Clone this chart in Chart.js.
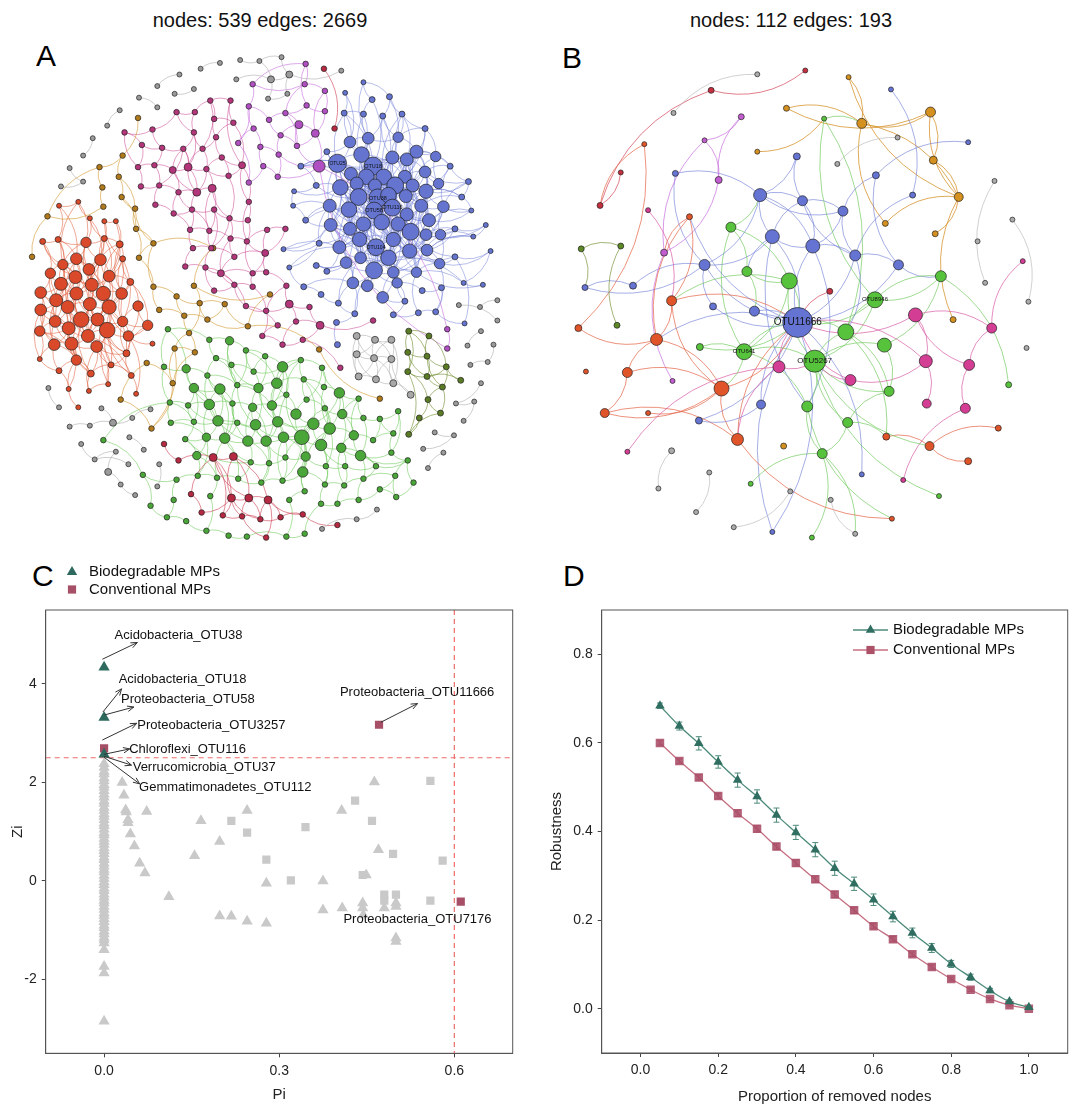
<!DOCTYPE html>
<html>
<head>
<meta charset="utf-8">
<title>Networks, Zi-Pi plot and robustness</title>
<script src="https://cdn.jsdelivr.net/npm/chart.js"></script>
<style>
  body { margin: 0; background: #fff; font-family: "Liberation Sans", Arial, Helvetica, sans-serif; }
  #page { position: relative; width: 1080px; height: 1112px; overflow: hidden; }
  canvas { position: absolute; }
  .title { position: absolute; width: 400px; text-align: center; font-size: 20px; line-height: 20px; color: #111; }
  .tag { position: absolute; font-size: 30px; line-height: 30px; color: #000; }
</style>
</head>
<body>
<div id="page">
  <div class="title" style="left:60px;top:10px">nodes: 539 edges: 2669</div>
  <div class="title" style="left:591px;top:10px">nodes: 112 edges: 193</div>
  <div class="tag" style="left:36px;top:41px">A</div>
  <div class="tag" style="left:562px;top:43px">B</div>
  <div class="tag" style="left:32px;top:561px">C</div>
  <div class="tag" style="left:563px;top:561px">D</div>
  <canvas id="netA" width="540" height="560" style="left:0;top:0"></canvas>
  <canvas id="netB" width="540" height="560" style="left:540px;top:0"></canvas>
  <canvas id="zipi" width="540" height="552" style="left:0;top:560px"></canvas>
  <canvas id="robust" width="540" height="552" style="left:540px;top:560px"></canvas>
</div>

<script>
// ---------------- network A : layout position [x, y, radius] per module ----------------
const aBlue = [
  [340,159,7],[365,150,6],[377,162,7],[397,153,5],[412,155,5],[422,147,5],[354,170,5],[370,173,6],[388,173,6],[410,173,5],
  [431,168,4.5],[343,184,6],[360,180,5],[379,182,5],[400,182,6.5],[418,182,5],[432,188,5.5],[362,194,6.5],[382,195,7],[393,192,6],
  [411,193,5],[332,203,5],[352,207,6],[378,208,6.5],[397,205,6.5],[412,212,5],[427,203,5],[450,204,4.5],[333,223,5],[353,227,5],
  [367,222,5.5],[386,220,6],[403,222,5.5],[416,230,6.5],[435,218,5],[432,233,4.5],[447,233,4],[342,246,5],[363,238,5.5],[380,246,6.5],
  [398,238,5.5],[415,250,5.5],[433,249,4.5],[349,262,4.5],[364,257,4.5],[393,257,6],[378,270,6.5],[398,272,4.5],[422,272,4],[446,263,4],
  [356,283,4.5],[402,283,4],[353,137,4.5],[372,133,4.5],[403,132,4],[442,152,4],[445,180,4],[347,107,3],[367,108,3],[387,110,3],
  [407,108,3],[431,123,3],[376,93,3],[394,90,3],[367,75,2.5],[348,86,2.5],[329,147,3],[318,182,3],[295,188,2.5],[294,203,2.5],
  [307,218,3],[302,162,3],[457,162,3],[476,178,3],[469,194,3],[479,208,2.5],[462,227,3],[494,223,2.5],[481,235,2.5],[462,256,3],
  [499,250,2.5],[471,283,2.5],[491,285,2.5],[284,248,2.5],[318,265,3],[329,271,3],[305,287,3],[290,267,2.5],[321,242,3],[371,286,4.5],
  [387,298,4.5],[410,302,3],[398,316,3],[424,314,3],[442,313,3],[341,304,3],[358,315,3],[339,324,3],[340,347,3],[472,325,2.5],
  [448,288,3],[428,291,3],[323,295,3]
];
const aBlueEdges =
  "0-1 0-2 0-6 0-11 0-12 0-52 0-66 0-21 0-17 0-7 1-2 1-3 1-52 1-53 1-7 1-8 1-12 2-3 2-7 2-8 2-13 2-18 2-53 2-23 " +
  "3-4 3-8 3-9 3-14 3-54 3-19 4-5 4-9 4-10 4-15 4-55 4-20 5-10 5-54 5-55 5-61 5-16 6-7 6-11 6-12 6-17 6-22 7-8 7-12 " +
  "7-13 7-18 7-17 8-9 8-13 8-14 8-19 8-24 9-10 9-14 9-15 9-20 9-25 10-15 10-16 10-56 10-26 11-12 11-17 11-21 11-22 " +
  "11-67 11-28 12-13 12-17 12-18 12-22 13-14 13-18 13-19 13-23 14-15 14-19 14-20 14-24 14-31 15-16 15-20 15-25 15-26 " +
  "16-26 16-27 16-56 16-34 17-18 17-22 17-23 17-29 17-30 18-19 18-23 18-24 18-31 18-39 19-20 19-24 19-25 19-32 20-25 " +
  "20-26 20-33 21-22 21-28 21-70 21-29 22-23 22-29 22-30 22-37 23-24 23-30 23-31 23-38 23-46 24-25 24-31 24-32 24-40 " +
  "24-45 25-26 25-32 25-33 25-41 26-27 26-34 26-35 27-34 27-36 27-72 28-29 28-37 28-88 28-43 29-30 29-37 29-38 29-44 " +
  "30-31 30-38 30-39 30-45 31-32 31-39 31-40 31-46 32-33 32-40 32-41 33-34 33-35 33-41 33-42 34-35 34-36 35-36 35-42 " +
  "36-49 37-38 37-43 37-44 37-50 38-39 38-44 38-46 39-40 39-45 39-46 40-41 40-45 40-47 41-42 41-47 41-48 42-48 42-49 " +
  "43-44 43-50 44-45 44-46 44-50 45-46 45-47 45-51 46-47 46-50 46-51 47-48 47-51 48-49 48-51 52-53 52-57 52-66 53-54 " +
  "53-58 53-59 54-59 54-60 54-61 55-56 55-72 55-61 57-58 57-65 58-62 59-63 60-63 60-61 62-64 63-64 65-52 64-53 66-71 " +
  "67-71 67-68 68-69 69-70 70-28 71-0 72-73 73-74 74-16 74-75 75-34 76-36 76-77 77-78 78-42 79-49 79-80 80-81 81-82 " +
  "82-48 83-88 84-85 85-37 86-87 87-88 88-21 84-43 89-90 90-91 91-92 92-93 93-94 94-100 100-101 101-51 89-50 95-96 " +
  "96-97 97-98 95-102 102-86 99-94 99-79 89-46 90-47 91-51 96-50 1-57 2-62 8-60 3-63 5-72 10-73 16-74 27-75 36-76 " +
  "35-77 42-78 49-80 48-81 50-95 43-84 37-83 0-18 0-23 1-13 2-24 3-18 4-19 6-23 7-24 8-31 9-32 11-30 12-39 13-45 " +
  "14-33 15-34 17-44 18-45 19-41 20-40 21-37 22-46 23-40 24-47 26-41 28-44 30-46 31-47 32-48 2-14 7-19 12-23 13-31 " +
  "18-32 23-39 24-33 17-38 29-46 30-44 31-45 3-20 1-9 2-20 8-25 13-24 18-40 23-45 39-47 " +
  "0-3 0-13 0-22 0-28 1-4 1-14 1-18 2-4 2-19 2-31 3-5 3-15 3-24 4-14 4-16 5-9 5-15 6-13 6-18 6-28 7-14 7-22 7-23 " +
  "8-15 8-18 8-20 9-16 9-19 9-24 10-20 10-25 11-18 11-23 11-29 12-19 12-24 12-29 13-20 13-22 13-30 14-25 14-26 15-24 " +
  "15-33 16-25 16-33 17-24 17-31 17-37 18-25 18-30 19-26 19-31 20-34 21-30 21-38 22-31 22-38 23-32 23-44 24-34 24-41 " +
  "25-34 25-40 26-33 27-35 28-38 28-39 29-39 29-43 30-40 30-37 31-41 32-39 32-42 33-40 33-49 35-41 36-48 37-39 38-45 " +
  "38-40 39-44 40-46 41-45 42-47 43-46 44-47 45-48 46-49 " +
  "0-71 11-68 21-69 28-83 37-87 43-85 50-86 46-89 47-90 51-91 48-93 49-94 42-76 36-78 33-79 27-73 16-73 10-72 4-60 " +
  "3-59 1-58 0-57 2-57 7-58 8-59 9-60 14-61 15-55 20-72 26-74 34-75 35-76 41-79 45-81 46-96 39-89 44-95 29-88 22-70 " +
  "17-67 12-71 6-66 0-24 0-31 1-23 2-29 3-30 4-32 5-26 6-31 7-32 8-38 9-37 10-33 11-32 12-33 13-34 14-37 15-38 16-41 " +
  "17-40 18-41 19-44 20-45 21-39 22-40 23-41 25-39 26-42 27-41 28-45 29-45 30-47 31-48 32-46 33-45 34-48 35-47 36-47";
const aBlueLabels = [[24, 'OTU116', 5.5], [18, 'OTU38', 5.5], [2, 'OTU18', 5.5], [23, 'OTU58', 5.5], [0, 'OTU25', 5], [39, 'OTU104', 5]];

const aRed = [
  [51,203,2.5],[71,199,2.5],[83,216,2.5],[98,219,2.5],[110,219,2.5],[34,240,3],[50,238,3],[79,241,4],[98,237,3],[114,243,3.5],
  [117,258,3],[42,273,4],[55,264,4],[69,258,4.5],[82,269,4.5],[94,259,4.5],[103,276,4.5],[68,277,5],[53,284,5],[85,285,5],
  [32,293,4.5],[69,294,5],[97,294,5.5],[116,294,4.5],[125,282,3.5],[48,301,5],[60,308,5],[83,305,5],[103,308,5.5],[32,311,4.5],
  [47,323,4.5],[74,321,6],[91,321,5],[117,323,4],[133,307,4],[143,327,4],[31,333,4],[61,330,5],[81,338,5],[101,332,6],
  [123,338,4],[46,347,4.5],[64,346,5],[90,349,4.5],[121,356,3.5],[69,363,4],[84,377,3.5],[105,368,3],[126,379,3],[31,362,2.5],
  [51,374,3],[61,393,2.5],[82,395,2.5],[102,388,2.5],[71,412,2.5],[131,398,2.5],[148,346,2.5]
];
const aRedEdges =
  "0-6 0-1 1-7 1-2 2-7 2-8 3-8 3-4 4-9 5-6 5-11 6-7 6-12 7-8 7-13 7-14 8-9 8-15 9-10 9-15 10-16 10-24 11-12 11-18 " +
  "11-20 12-13 12-17 12-18 13-14 13-17 14-15 14-19 15-16 15-19 16-19 16-22 16-24 17-18 17-21 17-19 18-20 18-25 19-21 " +
  "19-22 19-27 20-25 20-29 21-25 21-26 21-27 22-23 22-27 22-28 23-24 23-28 23-33 24-34 25-26 25-29 25-30 26-27 26-31 " +
  "26-30 27-28 27-31 27-32 28-32 28-33 28-39 29-30 29-36 30-31 30-37 30-36 31-32 31-37 31-38 32-33 32-39 32-38 33-34 " +
  "33-35 33-40 34-35 35-40 36-37 36-41 37-38 37-41 37-42 38-39 38-43 38-42 39-40 39-43 39-44 40-44 40-56 41-42 41-49 " +
  "41-45 42-43 42-45 43-44 43-46 43-47 44-47 44-48 45-46 45-50 46-47 46-52 47-48 47-53 48-55 49-50 50-51 51-54 52-53 " +
  "45-51 13-21 14-22 12-25 17-26 19-28 21-31 22-32 27-39 26-37 31-43 31-42 17-31 13-19 7-15 8-16 12-21 18-26 15-22 " +
  "14-27 21-32 27-38 28-38 25-37 30-42 32-43 39-47 16-28 11-25 20-30 5-12 6-13 10-23 9-16 29-41 36-49 " +
  "7-12 8-14 9-22 10-28 12-19 13-22 13-26 14-21 15-23 17-25 18-21 19-31 21-37 22-39 24-33 25-31 26-38 27-37 28-40 " +
  "29-37 30-41 31-39 32-44 33-39 37-45 38-47 42-46 43-53 39-48 " +
  "0-13 1-12 2-15 3-10 4-16 5-17 6-18 7-19 8-21 9-23 10-33 11-26 12-27 13-28 14-28 15-27 16-32 17-30 18-30 19-32 " +
  "20-36 21-38 22-38 23-39 24-35 25-41 26-42 27-43 28-44 29-49 30-45 31-46 32-47 33-44 34-40 35-44 36-45 37-46 " +
  "38-48 39-53 40-55 41-50 42-51 43-52";

const aPink = [
  [208,94],[229,94],[192,106],[173,106],[212,113],[232,117],[148,124],[191,127],[214,132],[119,127],
  [137,140],[158,143],[180,144],[200,144],[220,153],[150,161],[169,166,3.5],[185,163,4],[204,165],[227,172],
  [241,161,3.5],[133,163],[136,183],[155,182],[175,189],[194,189,4],[210,185,4],[151,202],[170,211],[189,207],
  [212,207],[228,216],[247,218],[248,199],[187,228],[207,229],[229,237],[246,240],[267,228],[286,227],
  [190,247],[209,247],[233,256],[265,252,3.5],[182,266],[203,267],[219,273,3.5],[252,273],[266,272],[287,286],
  [233,285],[252,287],[212,291],[245,307],[266,312],[290,305,4],[311,308],[297,323],[322,327,4],[278,327],
  [262,338],[283,347],[304,342],[343,371],[377,322]
];
const aPinkEdges =
  "0-1 0-2 0-4 1-5 2-3 2-7 3-6 4-8 4-5 5-8 6-9 6-11 7-12 7-13 8-13 8-14 9-10 10-11 10-21 11-12 11-15 12-16 12-17 " +
  "13-17 13-18 14-18 14-19 14-20 15-16 15-21 15-23 16-17 16-24 17-18 17-25 18-19 18-26 19-20 19-31 20-33 21-22 22-23 " +
  "23-24 23-27 24-25 24-28 25-26 25-29 26-30 26-31 27-28 28-29 28-34 29-30 29-34 30-31 30-35 31-32 31-36 32-33 32-37 " +
  "33-20 34-35 34-40 35-36 35-41 36-37 36-42 37-38 37-43 38-39 38-43 40-41 40-44 41-42 41-45 42-43 42-46 43-47 43-48 " +
  "44-45 45-46 46-47 46-50 47-48 47-51 48-49 49-55 50-51 50-53 51-54 52-50 52-45 53-54 53-59 54-55 54-60 55-56 55-57 " +
  "56-58 57-58 57-61 58-62 59-60 60-61 61-62 62-63 58-64 25-17 17-12 7-17 16-25 18-25 3-7 0-13 1-20 5-20 9-21 29-35 " +
  "24-29 30-41 33-37 39-43 37-47 46-53 49-54 45-50 36-46 31-41 26-35 12-23";

const aMag = [
  [307,56],[306,77],[327,84],[252,77],[286,107],[300,119,4],[317,128,4],[308,99],[248,100],[269,114],
  [253,123],[281,130],[260,142],[279,150],[298,141],[321,162,6],[278,173],[263,162],[248,179],[237,138],
  [327,105],[454,331],[454,351]
];
const aMagEdges =
  "0-1 0-7 1-2 1-4 2-20 2-6 3-8 3-1 4-5 4-7 5-6 5-14 6-15 7-20 8-9 8-10 9-4 9-11 10-12 10-19 11-14 11-13 12-13 " +
  "12-17 13-16 14-15 15-16 16-17 17-18 18-19 15-13 5-11 6-14 0-3 20-6 19-8 15-21 15-22 21-22 14-4";

const aCrim = [
  [326,61],[337,123],[160,450],[175,467],[211,464,4],[232,463,4],[230,506,4],[248,506,4],[268,508,4],[221,524],
  [241,525],[260,528],[281,526],[304,523],[188,502],[199,521],[340,534],[266,547]
];
const aCrimEdges =
  "0-1 2-3 3-4 4-5 4-6 5-6 5-7 6-7 6-9 6-10 7-8 7-10 7-11 8-11 8-12 9-10 10-11 11-12 12-13 13-16 8-17 10-17 14-4 " +
  "15-6 14-15 4-7 5-8 6-11 4-9 8-13";

const aGreen = [
  [164,331],[207,342],[228,343,4],[245,353],[265,359],[214,361],[230,368],[253,375],[283,370,5],[302,363],
  [324,371],[160,370],[183,372,4],[205,379],[236,389],[258,392,4.5],[277,387,5],[305,383],[326,391],[191,392,4.5],
  [218,393,5],[287,399],[342,397,5],[362,403],[166,407],[185,410],[207,409,5],[231,408],[252,412,4],[272,410,4.5],
  [297,419,5],[308,404],[327,413],[345,419,4.5],[367,423],[384,424],[167,428],[191,427],[216,426,5],[236,428],
  [255,430,5],[278,427,5],[315,429,5.5],[332,434,5.5],[357,441,4.5],[377,446],[398,439],[403,416],[182,445],[204,443,4],
  [223,444,5],[247,447,5],[266,447,5],[284,443,5],[303,443,7],[323,451,5.5],[344,454,4.5],[364,462,5],[396,459],[194,462,4],
  [250,469],[269,470],[286,464],[307,463,4.5],[328,473],[348,473],[380,473],[413,467],[195,483],[215,485],
  [237,486],[261,490],[283,488],[304,479,5],[327,492],[347,493],[367,486],[400,483],[173,487],[138,482],
  [97,446],[170,508],[208,504],[306,499],[290,508],[323,512],[340,512],[362,508],[384,497],[401,505],
  [419,490],[146,514],[163,526],[183,530],[204,540],[227,545],[246,546],[287,546],[306,543]
];
const aGreenEdges =
  "0-1 0-11 1-2 1-5 2-3 2-6 3-4 3-7 4-8 4-7 5-6 5-13 6-7 6-14 7-15 7-8 8-9 8-16 9-10 9-17 10-18 11-12 12-13 12-19 " +
  "13-14 13-20 14-15 14-27 15-16 15-28 16-17 16-21 17-18 17-31 18-22 19-20 19-25 20-26 20-27 21-29 21-30 22-23 22-33 " +
  "23-34 24-25 24-36 25-26 25-37 26-27 26-38 27-28 27-39 28-29 28-40 29-30 29-41 30-31 30-42 31-32 32-33 32-43 33-34 " +
  "33-44 34-35 35-45 35-47 36-37 37-38 37-48 38-39 38-49 39-40 39-50 40-41 40-51 41-42 41-52 42-43 42-53 42-54 43-44 " +
  "43-55 44-45 44-56 45-46 46-58 47-46 48-49 48-59 49-50 49-59 50-51 50-70 51-52 51-60 52-53 52-61 53-54 53-62 54-55 " +
  "54-63 55-56 55-64 56-57 56-65 57-58 57-66 58-67 59-68 60-61 60-70 61-62 61-71 62-63 62-72 63-64 63-73 64-65 64-74 " +
  "65-66 65-75 66-67 66-76 67-77 68-69 68-78 69-70 70-71 71-72 72-73 73-74 73-83 74-75 74-85 75-76 75-86 76-77 76-87 " +
  "77-88 77-89 78-79 79-80 80-24 78-81 81-92 82-69 82-94 83-84 84-97 85-86 86-87 87-88 88-89 89-90 90-67 91-92 92-93 " +
  "93-94 94-95 95-96 96-97 97-98 98-85 91-79 8-21 16-29 20-38 26-49 38-50 40-52 41-53 42-55 54-73 54-62 43-64 30-54 " +
  "22-43 10-22 15-40 28-51 29-52 21-53 17-42 18-43 32-55 12-26 19-37 13-26 27-50 14-40 4-15 9-16 3-14 53-72 52-71 " +
  "50-69 49-68 63-83 55-74 56-75 57-76 44-57 33-56 23-44 34-57 11-24 0-12 2-14 47-58 35-46 " +
  "8-29 16-41 20-50 26-51 38-52 40-53 41-54 42-63 54-72 43-73 22-42 15-41 28-52 21-54 17-43 32-54 19-38 27-51 14-29 " +
  "13-27 5-14 6-15 3-16 9-21 10-31 23-33 24-37 25-38 36-49 48-60 59-69 50-60 51-61 52-62 53-63 55-65 56-66 57-67";

const aOchre = [
  [133,112],[117,151],[93,163],[113,173],[96,184],[116,194],[97,204],[130,206],[131,227],[149,242],
  [134,257],[211,247],[149,287],[191,286],[39,214],[23,256],[173,297],[197,304],[223,305],[181,317],
  [205,321],[155,311],[186,335],[171,351],[192,355],[142,366],[169,387],[115,404],[147,434],[247,328],
  [270,295],[321,352],[384,403]
];
const aOchreEdges =
  "0-1 1-3 1-2 2-4 3-5 4-6 3-7 5-7 5-8 7-8 8-9 9-10 8-10 9-12 10-12 7-9 12-16 16-17 17-18 16-19 19-20 17-20 18-20 " +
  "12-21 21-19 19-22 22-24 22-23 23-24 23-26 25-26 25-27 26-28 14-15 14-2 11-13 13-17 18-29 29-30 20-29 30-13 28-27 " +
  "17-22 11-9 23-28 24-26 6-14 31-29 32-31";

const aOlive = [
  [414,333],[435,338],[413,355],[433,359],[453,370],[413,375],[433,380],[468,384],[449,391],[434,404],
  [425,423],[447,418],[414,440]
];
const aOliveEdges = "0-1 0-2 0-3 1-3 1-4 2-3 2-5 3-4 3-6 4-7 4-6 5-6 6-7 6-8 5-9 8-9 9-10 9-11 10-12 11-12 8-11 2-6 4-8 3-8 0-5 12-5";

const aSilver = [
  [360,338],[379,342],[396,342],[360,357],[378,361],[396,362],[362,380],[380,383],[398,387],[416,399]
];
const aSilverEdges = "0-1 1-2 0-3 1-4 2-5 3-4 4-5 3-6 4-7 5-8 6-7 7-8 8-9 0-4 1-5 3-7 4-8 2-4 1-3 6-4 7-5 0-6 2-8 5-9";

const aGray = [
  [198,61],[218,55],[239,52],[259,53],[282,49],[290,67,3.5],[271,72,3.5],[235,72],[191,82],[171,87],
  [176,67],[153,79],[134,91],[153,101],[114,104],[101,120],[86,133],[76,151],[62,164],[76,178],
  [53,183],[268,92],[288,87],[344,63],[40,392],[51,412],[95,413],[107,428,3.5],[127,423],[146,414],
  [62,432],[83,431],[124,443],[74,450],[139,456],[88,466],[110,458],[123,471],[102,479,3.5],[115,492],
  [130,503],[155,471],[153,494],[506,301],[488,308],[466,306],[506,322],[489,333],[475,348],[502,347],
  [496,365],[478,368],[489,387],[463,408],[482,406],[471,426],[441,438],[461,441],[429,455],[450,459],
  [434,475],[381,518],[360,528],[324,538]
];
const aGrayEdges =
  "0-1 2-3 3-4 4-5 5-6 6-3 7-6 5-22 6-21 21-22 8-9 10-11 12-13 14-15 16-17 18-19 19-20 24-25 26-27 27-28 28-29 " +
  "27-31 30-31 33-35 35-36 36-38 35-37 34-32 38-39 39-40 41-42 43-44 45-46 47-48 49-50 50-51 52-53 53-54 54-55 " +
  "56-57 57-58 59-60 61-62 62-63 23-5";

// ---------------- network B : [x, y, radius, module] ----------------
const bNodes = [
  [265,58,2.5,'cr'],[214,62,2.5,'gy'],[311,65,2.5,'oc'],[165,79,3,'cr'],[356,78,2.5,'bl'],[125,103,2.5,'gy'],[245,98,3,'oc'],[398,102,5,'oc'],[197,107,3,'pu'],[285,109,2.5,'gr'],
  [325,114,5,'oc'],[363,129,2.5,'gy'],[438,134,2.5,'bl'],[158,132,2.5,'pu'],[94,136,2.5,'rd'],[214,144,2.5,'oc'],[256,149,3.5,'bl'],[299,157,2.5,'gy'],[401,153,4,'oc'],[69,166,2.5,'cr'],
  [127,167,3,'bl'],[173,174,3.5,'pu'],[340,169,3.5,'bl'],[466,175,2.5,'gy'],[217,190,6.5,'bl'],[379,190,3,'bl'],[428,192,4.5,'oc'],[47,201,3,'cr'],[262,196,5,'bl'],[305,207,5,'bl'],
  [98,206,2.5,'pk'],[142,213,3,'rd'],[485,216,2.5,'gy'],[350,220,3,'oc'],[403,231,3,'oc'],[186,224,5,'gr'],[27,247,3,'ol'],[69,244,3,'ol'],[230,234,7,'bl'],[273,244,7,'bl'],
  [448,239,2.5,'gy'],[115,251,3.5,'pu'],[496,260,2.5,'pk'],[318,254,5.5,'bl'],[158,264,5.5,'bl'],[364,264,5,'bl'],[203,271,5,'gr'],[248,281,8,'gr'],[409,276,5.5,'gr'],[456,283,2.5,'gy'],
  [31,288,3,'bl'],[82,286,3.5,'bl'],[291,292,3,'cr'],[502,303,2.5,'gy'],[123,302,5,'rd'],[167,308,3.5,'bl'],[211,313,5,'bl'],[257,325,15,'bl'],[339,301,8,'gr'],[382,317,7,'pk'],
  [422,322,3,'oc'],[463,331,5,'pk'],[24,331,3.5,'rd'],[65,328,3,'ol'],[107,343,6,'rd'],[153,351,3.5,'gr'],[200,356,8,'gr'],[308,335,8,'gr'],[349,349,7,'gr'],[500,352,2.5,'gy'],
  [237,372,6,'pk'],[275,366,11,'gr'],[393,366,6.5,'pk'],[439,370,5.5,'pk'],[32,377,2.5,'rd'],[76,378,5,'rd'],[124,387,2.5,'pu'],[176,395,7.5,'rd'],[313,386,5.5,'pk'],[354,398,5,'gr'],
  [481,391,3,'gr'],[218,412,4.5,'bl'],[267,414,5.5,'gr'],[394,411,4.5,'pk'],[435,416,5,'pk'],[52,421,4.5,'rd'],[98,421,2.5,'rd'],[152,429,3.5,'bl'],[310,431,5,'gr'],[470,437,3,'rd'],
  [193,449,6,'rd'],[351,446,3.5,'rd'],[397,456,4.5,'rd'],[76,462,2.5,'pk'],[123,461,3,'gy'],[242,456,3,'oc'],[283,464,5,'gr'],[438,472,3.5,'rd'],[325,486,2.5,'bl'],[163,484,2.5,'gy'],
  [369,492,2.5,'pk'],[207,496,2.5,'gr'],[109,501,2.5,'gy'],[249,504,2.5,'gy'],[292,513,2.5,'gy'],[407,509,2.5,'gr'],[149,526,2.5,'gy'],[189,542,2.5,'gy'],[230,547,2.5,'bl'],[318,549,2.5,'gy'],
  [357,533,2.5,'rd'],[272,553,2.5,'gr']
];
const bEdges =
  "0-3 3-27 19-27 14-27 14-62 1-5 6-10 6-7 9-10 15-9 2-10 2-26 10-26 10-33 7-18 7-26 18-26 26-33 26-34 26-60 7-10 " +
  "11-17 4-25 12-22 20-24 20-44 16-24 16-28 24-28 24-29 28-29 24-38 24-39 28-38 28-39 29-43 29-39 38-39 38-44 38-46 " +
  "38-57 39-57 43-57 44-57 44-50 44-51 50-51 25-43 45-57 45-48 43-45 55-57 56-57 57-81 57-87 57-108 39-82 38-82 57-98 " +
  "22-45 8-13 8-21 13-21 13-41 21-41 41-76 30-54 31-41 31-54 31-64 36-37 37-63 36-50 9-58 35-46 35-66 35-47 46-47 " +
  "47-57 47-71 47-66 58-67 58-71 58-48 48-68 67-71 66-71 68-71 71-82 71-88 67-79 82-96 88-96 96-101 96-111 66-65 " +
  "66-82 71-79 48-80 71-105 58-57 67-57 66-57 64-54 64-62 64-75 64-77 54-77 75-77 77-90 77-85 85-75 85-90 86-77 " +
  "90-57 77-57 54-57 90-110 91-92 92-97 92-89 52-57 59-72 59-73 59-61 61-73 72-78 73-84 72-83 84-100 70-57 70-71 " +
  "78-71 42-61 93-70 23-49 32-53 94-102 103-107 104-109 99-106 108-57 59-57 72-57 78-57 65-57 9-67 22-29 43-67 " +
  "48-58 68-79 79-88 96-109 87-81 55-44 71-92 67-91 82-110 88-91 57-64 57-31 70-90 66-77 47-54 46-56 35-24 24-44 " +
  "28-43 39-43";
const bLabels = [[57, 'OTU11666', 10], [71, 'OTU5267', 8], [66, 'OTU641', 6], [58, 'OTU8946', 6]];

// ---------------- C : within-module (Zi) vs among-module (Pi) connectivity ----------------
const piTicks = [0, 0.3, 0.6];
const ziTicks = [-2, 0, 2, 4];
const piCut = 0.6;
const ziCut = 2.5;
const bioZeroPiZi = [2.38, 2.3, 2.22, 2.17, 2.09, 2.03, 1.95, 1.9, 1.83, 1.76, 1.7, 1.62, 1.57, 1.49, 1.43, 1.36,
  1.31, 1.24, 1.17, 1.12, 1.05, 0.98, 0.93, 0.86, 0.8, 0.74, 0.67, 0.61, 0.55, 0.48, 0.43, 0.36, 0.3, 0.23, 0.18,
  0.11, 0.05, -0.02, -0.08, -0.15, -0.2, -0.27, -0.33, -0.4, -0.45, -0.52, -0.58, -0.65, -0.7, -0.77, -0.83, -0.9,
  -0.95, -1.02, -1.08, -1.15, -1.2, -1.26, -1.4, -1.74, -1.87, -2.85];
const bioOtherPi = [0.031, 0.034, 0.037, 0.038, 0.041, 0.041, 0.045, 0.052, 0.061, 0.070, 0.073, 0.111, 0.155, 0.166,
  0.198, 0.198, 0.218, 0.245, 0.245, 0.278, 0.278, 0.375, 0.375, 0.407, 0.408, 0.443, 0.443, 0.444, 0.449, 0.463,
  0.470, 0.480, 0.500, 0.500, 0.500, 0.500];
const bioOtherZi = [2.00, 1.74, 1.44, 1.40, 1.24, 1.18, 0.95, 0.71, 0.36, 0.16, 1.41, -0.32, 0.51, 1.22, 0.80, -0.71,
  -0.72, 1.43, -0.82, -0.05, -0.86, 0.00, -0.59, 1.43, -0.55, -0.45, -0.55, -0.69, 0.12, 2.01, 0.63, -0.55, -0.45,
  -0.52, -1.16, -1.23];
const convOtherPi = [0.218, 0.245, 0.278, 0.320, 0.345, 0.430, 0.459, 0.443, 0.480, 0.480, 0.495, 0.500, 0.559, 0.559, 0.580];
const convOtherZi = [1.22, 0.98, 0.43, 0.01, 1.09, 1.63, 1.22, 0.12, -0.28, -0.40, 0.55, -0.28, 2.03, -0.40, 0.41];
const bioKeyPi = [0, 0, 0];
const bioKeyZi = [4.34, 3.32, 2.57];
const convKeyPi = [0, 0.471, 0.611];
const convKeyZi = [2.69, 3.17, -0.42];
// [text, text x, text y, arrow from x, from y, arrow to x, to y] in data units
const keyNotes = [
  ['Acidobacteria_OTU38', 0.018, 4.99, -0.003, 4.50, 0.057, 4.84],
  ['Acidobacteria_OTU18', 0.025, 4.09, -0.002, 3.43, 0.030, 3.90],
  ['Proteobacteria_OTU58', 0.029, 3.68, 0.001, 3.37, 0.051, 3.53],
  ['Proteobacteria_OTU3257', 0.057, 3.16, -0.003, 2.86, 0.056, 3.20],
  ['Chloroflexi_OTU116', 0.043, 2.67, 0.0, 2.57, 0.044, 2.68],
  ['Verrucomicrobia_OTU37', 0.049, 2.30, 0.0, 2.53, 0.047, 2.35],
  ['Gemmatimonadetes_OTU112', 0.060, 1.89, 0.0, 2.51, 0.061, 1.97],
  ['Proteobacteria_OTU11666', 0.404, 3.83, 0.474, 3.22, 0.537, 3.60],
  ['Proteobacteria_OTU7176', 0.410, -0.79, null, null, null, null]
];

// ---------------- D : robustness under random node removal ----------------
const removedProp = [0.05, 0.10, 0.15, 0.20, 0.25, 0.30, 0.35, 0.40, 0.45, 0.50, 0.55, 0.60, 0.65, 0.70, 0.75, 0.80, 0.85, 0.90, 0.95, 1.00];
const bioRobust = [0.684, 0.638, 0.599, 0.557, 0.516, 0.479, 0.437, 0.398, 0.359, 0.317, 0.282, 0.246, 0.208, 0.171, 0.137, 0.101, 0.071, 0.041, 0.016, 0.003];
const bioErr = [0.006, 0.009, 0.015, 0.014, 0.016, 0.015, 0.016, 0.016, 0.016, 0.016, 0.015, 0.013, 0.012, 0.011, 0.010, 0.008, 0.007, 0.005, 0.004, 0.002];
const convRobust = [0.600, 0.559, 0.522, 0.480, 0.441, 0.406, 0.366, 0.329, 0.292, 0.258, 0.222, 0.186, 0.157, 0.123, 0.094, 0.067, 0.043, 0.022, 0.008, 0.000];
const convErr = [0.005, 0.005, 0.006, 0.006, 0.007, 0.007, 0.007, 0.007, 0.007, 0.007, 0.007, 0.006, 0.006, 0.005, 0.005, 0.004, 0.004, 0.003, 0.002, 0.001];
const propTicks = [0, 0.2, 0.4, 0.6, 0.8, 1.0];
const robustTicks = [0, 0.2, 0.4, 0.6, 0.8];


// ================= drawing =================
Chart.defaults.font.family = '"Liberation Sans", Arial, Helvetica, sans-serif';
Chart.defaults.color = '#222';
Chart.defaults.animation = false;

const TEAL = '#2d6a5d', ROSE = '#a64f66', GREY = '#c9c9c9';

function pairs(s) {
  return s.trim().split(/\s+/).map(p => p.split('-').map(Number));
}

// edges are drawn under the nodes as soft arcs
const edgePlugin = {
  id: 'edges',
  beforeDatasetsDraw(chart) {
    const ctx = chart.ctx, xs = chart.scales.x, ys = chart.scales.y;
    ctx.save();
    chart.data.datasets.forEach(ds => {
      if (!ds.edges) return;
      ctx.lineWidth = ds.edgeWidth || 1;
      ds.edges.forEach(([i, j], k) => {
        const a = ds.data[i], b = ds.data[j];
        if (!a || !b) return;
        const x1 = xs.getPixelForValue(a.x), y1 = ys.getPixelForValue(a.y);
        const x2 = xs.getPixelForValue(b.x), y2 = ys.getPixelForValue(b.y);
        const bend = k % 2 ? 0.25 : -0.25;
        const cx = (x1 + x2) / 2 - (y2 - y1) * bend;
        const cy = (y1 + y2) / 2 + (x2 - x1) * bend;
        ctx.strokeStyle = ds.edgeColors ? ds.edgeColors[i] : ds.edgeColor;
        ctx.beginPath();
        ctx.moveTo(x1, y1);
        ctx.quadraticCurveTo(cx, cy, x2, y2);
        ctx.stroke();
      });
    });
    ctx.restore();
  },
  afterDatasetsDraw(chart) {
    const ctx = chart.ctx, xs = chart.scales.x, ys = chart.scales.y;
    ctx.save();
    ctx.fillStyle = '#111';
    ctx.textAlign = 'center';
    ctx.textBaseline = 'middle';
    chart.data.datasets.forEach(ds => {
      (ds.nodeLabels || []).forEach(([i, txt, size]) => {
        const p = ds.data[i];
        ctx.font = size + 'px "Liberation Sans", Arial, sans-serif';
        ctx.fillText(txt, xs.getPixelForValue(p.x), ys.getPixelForValue(p.y));
      });
    });
    ctx.restore();
  }
};

function netData(nodes, edgeStr, fill, edge, defR, rk) {
  const k = rk || 1;
  return {
    data: nodes.map(n => ({x: n[0], y: n[1]})),
    pointRadius: nodes.map(n => (n[2] || defR) * ((n[2] || defR) >= 4 ? k : 1)),
    pointBackgroundColor: fill,
    pointBorderColor: 'rgba(30,30,30,0.85)',
    pointBorderWidth: 0.8,
    edges: pairs(edgeStr),
    edgeColor: edge
  };
}

function netOptions(w, h) {
  return {
    responsive: false,
    events: [],
    layout: {padding: 0},
    plugins: {legend: {display: false}, tooltip: {enabled: false}},
    scales: {
      x: {type: 'linear', display: false, min: 0, max: w},
      y: {type: 'linear', display: false, min: 0, max: h, reverse: true}
    }
  };
}

const aBlueSet = netData(aBlue, aBlueEdges, '#6474cf', 'rgba(112,126,216,0.5)', 3, 1.3);
aBlueSet.nodeLabels = aBlueLabels;
new Chart(document.getElementById('netA'), {
  type: 'scatter',
  data: {datasets: [
    aBlueSet,
    netData(aRed, aRedEdges, '#d9492a', 'rgba(224,88,52,0.52)', 3, 1.3),
    netData(aGreen, aGreenEdges, '#4aa638', 'rgba(104,200,84,0.55)', 2.8, 1.05),
    netData(aPink, aPinkEdges, '#b3367a', 'rgba(206,74,150,0.55)', 2.8),
    netData(aMag, aMagEdges, '#b04fc2', 'rgba(200,110,222,0.6)', 2.8),
    netData(aCrim, aCrimEdges, '#b52a42', 'rgba(205,60,82,0.6)', 2.8),
    netData(aOchre, aOchreEdges, '#b07a1c', 'rgba(214,160,62,0.65)', 2.8),
    netData(aOlive, aOliveEdges, '#5a7a26', 'rgba(122,148,62,0.65)', 3),
    netData(aSilver, aSilverEdges, '#a8a8a8', 'rgba(185,185,185,0.65)', 3.5),
    netData(aGray, aGrayEdges, '#9a9a9a', 'rgba(185,185,185,0.7)', 2.5)
  ]},
  options: netOptions(540, 560),
  plugins: [edgePlugin]
});

const bFill = {bl: '#6573d2', gr: '#57c23c', oc: '#d49120', rd: '#e0542a', pk: '#d43d94', pu: '#c25dcf', cr: '#c4303f', ol: '#5c8826', gy: '#ababab'};
const bEdge = {
  bl: 'rgba(110,125,215,0.62)', gr: 'rgba(110,200,90,0.66)', oc: 'rgba(215,150,50,0.8)', rd: 'rgba(228,100,70,0.7)',
  pk: 'rgba(214,80,160,0.65)', pu: 'rgba(200,110,222,0.7)', cr: 'rgba(214,70,90,0.7)', ol: 'rgba(120,150,62,0.7)', gy: 'rgba(190,190,190,0.7)'
};
const bSet = netData(bNodes, bEdges, bNodes.map(n => bFill[n[3]]), null, 3);
bSet.edgeColors = bNodes.map(n => bEdge[n[3]]);
bSet.edgeWidth = 1;
bSet.nodeLabels = bLabels;
new Chart(document.getElementById('netB'), {
  type: 'scatter',
  data: {datasets: [bSet]},
  options: netOptions(540, 560),
  plugins: [edgePlugin]
});

// ---- helpers for panels C and D ----
function marker(ctx, style, x, y, r, color) {
  ctx.fillStyle = color;
  ctx.beginPath();
  if (style === 'triangle') {
    ctx.moveTo(x, y - r);
    ctx.lineTo(x + r * 0.866, y + r * 0.5);
    ctx.lineTo(x - r * 0.866, y + r * 0.5);
    ctx.closePath();
  } else {
    const s = r * Math.SQRT1_2;
    ctx.rect(x - s, y - s, 2 * s, 2 * s);
  }
  ctx.fill();
}

const boxPlugin = {
  id: 'box',
  afterDraw(chart) {
    const {ctx, chartArea: a} = chart;
    ctx.save();
    ctx.strokeStyle = '#555';
    ctx.lineWidth = 1;
    ctx.strokeRect(a.left, a.top, a.right - a.left, a.bottom - a.top);
    ctx.restore();
  }
};

function axis(min, max, ticks, fmt, titleText, titlePad, size) {
  return {
    type: 'linear', min: min, max: max,
    afterBuildTicks: s => { s.ticks = ticks.map(v => ({value: v})); },
    afterFit: s => { if (s.isHorizontal()) s.height = size; else s.width = size; },
    grid: {drawOnChartArea: false, tickLength: 4, color: '#444'},
    border: {color: '#555'},
    ticks: {font: {size: 14}, color: '#222', padding: 5, callback: fmt},
    title: {display: true, text: titleText, font: {size: 15}, color: '#222', padding: titlePad}
  };
}

// ---- C ----
const cPlugin = {
  id: 'cExtras',
  beforeDatasetsDraw(chart) {
    const {ctx, chartArea: a} = chart, xs = chart.scales.x, ys = chart.scales.y;
    ctx.save();
    ctx.strokeStyle = '#ef6b6b';
    ctx.lineWidth = 1.2;
    ctx.setLineDash([5, 4]);
    const vx = xs.getPixelForValue(piCut), hy = ys.getPixelForValue(ziCut);
    ctx.beginPath();
    ctx.moveTo(vx, a.top); ctx.lineTo(vx, a.bottom);
    ctx.moveTo(a.left, hy); ctx.lineTo(a.right, hy);
    ctx.stroke();
    ctx.restore();
  },
  afterDatasetsDraw(chart) {
    const ctx = chart.ctx, xs = chart.scales.x, ys = chart.scales.y;
    ctx.save();
    ctx.font = '13px "Liberation Sans", Arial, sans-serif';
    ctx.fillStyle = '#111';
    ctx.textBaseline = 'middle';
    ctx.strokeStyle = '#333';
    ctx.lineWidth = 1;
    keyNotes.forEach(([txt, tx, ty, x0, y0, x1, y1]) => {
      ctx.fillText(txt, xs.getPixelForValue(tx), ys.getPixelForValue(ty));
      if (x0 === null) return;
      const px0 = xs.getPixelForValue(x0), py0 = ys.getPixelForValue(y0);
      const px1 = xs.getPixelForValue(x1), py1 = ys.getPixelForValue(y1);
      const ang = Math.atan2(py1 - py0, px1 - px0);
      ctx.beginPath();
      ctx.moveTo(px0, py0); ctx.lineTo(px1, py1);
      ctx.moveTo(px1 - 7 * Math.cos(ang - 0.4), py1 - 7 * Math.sin(ang - 0.4));
      ctx.lineTo(px1, py1);
      ctx.lineTo(px1 - 7 * Math.cos(ang + 0.4), py1 - 7 * Math.sin(ang + 0.4));
      ctx.stroke();
    });
    ctx.restore();
  },
  afterDraw(chart) {
    const ctx = chart.ctx;
    ctx.save();
    ctx.font = '15px "Liberation Sans", Arial, sans-serif';
    ctx.textBaseline = 'middle';
    marker(ctx, 'triangle', 72, 12, 6, TEAL);
    marker(ctx, 'rect', 72, 29.5, 5.8, ROSE);
    ctx.fillStyle = '#111';
    ctx.fillText('Biodegradable MPs', 89, 12);
    ctx.fillText('Conventional MPs', 89, 29.5);
    ctx.restore();
  }
};

new Chart(document.getElementById('zipi'), {
  type: 'scatter',
  data: {datasets: [
    {label: 'Biodegradable MPs', data: bioKeyPi.map((p, i) => ({x: p, y: bioKeyZi[i]})),
     pointStyle: 'triangle', pointRadius: 6.5, pointBackgroundColor: TEAL, pointBorderWidth: 0},
    {label: 'Conventional MPs', data: convKeyPi.map((p, i) => ({x: p, y: convKeyZi[i]})),
     pointStyle: 'rect', pointRadius: 5.8, pointBackgroundColor: ROSE, pointBorderWidth: 0},
    {label: 'Conventional MPs, other nodes', data: convOtherPi.map((p, i) => ({x: p, y: convOtherZi[i]})),
     pointStyle: 'rect', pointRadius: 5.8, pointBackgroundColor: GREY, pointBorderWidth: 0},
    {label: 'Biodegradable MPs, other nodes',
     data: bioZeroPiZi.map(z => ({x: 0, y: z})).concat(bioOtherPi.map((p, i) => ({x: p, y: bioOtherZi[i]}))),
     pointStyle: 'triangle', pointRadius: 6.5, pointBackgroundColor: GREY, pointBorderWidth: 0}
  ]},
  options: {
    responsive: false,
    events: [],
    layout: {padding: {top: 50, right: 27.3, bottom: 0, left: 0}},
    plugins: {legend: {display: false}, tooltip: {enabled: false}},
    scales: {
      x: axis(-0.1, 0.7, piTicks, v => v.toFixed(1), 'Pi', {top: 0, bottom: 8}, 58.7),
      y: axis(-3.5, 5.5, ziTicks, v => String(v), 'Zi', {top: 9, bottom: 0}, 45.7)
    }
  },
  plugins: [cPlugin, boxPlugin]
});

// ---- D ----
const dPlugin = {
  id: 'dExtras',
  beforeDatasetsDraw(chart) {
    const ctx = chart.ctx, xs = chart.scales.x, ys = chart.scales.y;
    ctx.save();
    ctx.lineWidth = 1;
    chart.data.datasets.forEach(ds => {
      ctx.strokeStyle = ds.borderColor;
      ds.data.forEach((p, i) => {
        const e = ds.err[i];
        const px = xs.getPixelForValue(p.x);
        const lo = ys.getPixelForValue(p.y - e), hi = ys.getPixelForValue(p.y + e);
        ctx.beginPath();
        ctx.moveTo(px, lo); ctx.lineTo(px, hi);
        ctx.moveTo(px - 3, lo); ctx.lineTo(px + 3, lo);
        ctx.moveTo(px - 3, hi); ctx.lineTo(px + 3, hi);
        ctx.stroke();
      });
    });
    ctx.restore();
  },
  afterDraw(chart) {
    const ctx = chart.ctx;
    ctx.save();
    ctx.font = '15px "Liberation Sans", Arial, sans-serif';
    ctx.textBaseline = 'middle';
    ctx.lineWidth = 1.3;
    ctx.strokeStyle = '#4c8a7a';
    ctx.beginPath(); ctx.moveTo(313, 70); ctx.lineTo(348, 70); ctx.stroke();
    ctx.strokeStyle = '#c46f82';
    ctx.beginPath(); ctx.moveTo(313, 90); ctx.lineTo(348, 90); ctx.stroke();
    marker(ctx, 'triangle', 330.5, 70, 5.5, '#2f6e60');
    marker(ctx, 'rect', 330.5, 90, 5.8, '#ad5169');
    ctx.fillStyle = '#111';
    ctx.fillText('Biodegradable MPs', 353, 70);
    ctx.fillText('Conventional MPs', 353, 90);
    ctx.restore();
  }
};

new Chart(document.getElementById('robust'), {
  type: 'scatter',
  data: {datasets: [
    {label: 'Biodegradable MPs', data: removedProp.map((x, i) => ({x: x, y: bioRobust[i]})), err: bioErr,
     showLine: true, borderColor: '#4c8a7a', borderWidth: 1.3, cubicInterpolationMode: 'monotone',
     pointStyle: 'triangle', pointRadius: 5.5, pointBackgroundColor: '#2f6e60', pointBorderWidth: 0},
    {label: 'Conventional MPs', data: removedProp.map((x, i) => ({x: x, y: convRobust[i]})), err: convErr,
     showLine: true, borderColor: '#c46f82', borderWidth: 1.3, cubicInterpolationMode: 'monotone',
     pointStyle: 'rect', pointRadius: 6, pointBackgroundColor: 'rgba(170,76,102,0.88)', pointBorderWidth: 0}
  ]},
  options: {
    responsive: false,
    events: [],
    layout: {padding: {top: 50, right: 12.3, bottom: 0, left: 0}},
    plugins: {legend: {display: false}, tooltip: {enabled: false}},
    scales: {
      x: axis(-0.1, 1.1, propTicks, v => v.toFixed(1), 'Proportion of removed nodes', {top: 0, bottom: 6}, 59),
      y: axis(-0.1, 0.9, robustTicks, v => v.toFixed(1), 'Robustness', {top: 8, bottom: 0}, 61.7)
    }
  },
  plugins: [dPlugin, boxPlugin]
});
</script>
</body>
</html>
